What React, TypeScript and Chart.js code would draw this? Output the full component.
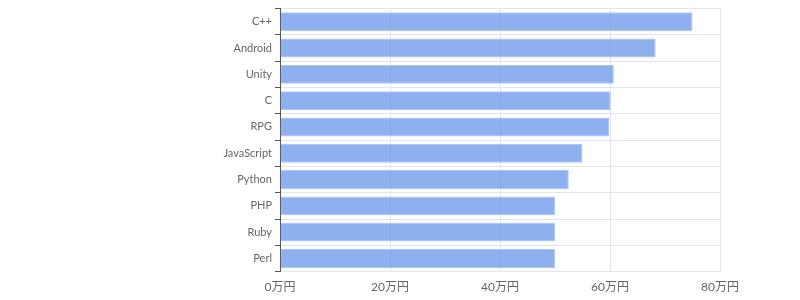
import React, { useEffect, useRef } from "react";
import { Chart, registerables } from "chart.js";

Chart.register(...registerables);

const categories = ["C++", "Android", "Unity", "C", "RPG", "JavaScript", "Python", "PHP", "Ruby", "Perl"];
const salaries = [75, 68.3, 60.7, 60.1, 59.9, 55, 52.5, 50, 50, 50];
const xMin = 0;
const xMax = 80;
const xStep = 20;
const unit = "万円";

const FONT = "Lato, 'Noto Sans CJK JP', sans-serif";

export default function App() {
  const ref = useRef<HTMLCanvasElement | null>(null);
  useEffect(() => {
    if (!ref.current) return;
    const chart = new Chart(ref.current, {
      type: "bar",
      data: {
        labels: categories,
        datasets: [
          {
            data: salaries,
            backgroundColor: "rgba(100,145,232,0.72)",
            borderColor: "rgba(120,160,240,0.6)",
            borderWidth: 1,
          },
        ],
      },
      options: {
        indexAxis: "y",
        animation: false,
        responsive: true,
        maintainAspectRatio: false,
        layout: { padding: { left: 0, right: 72, top: 0, bottom: 7 } },
        plugins: { legend: { display: false }, tooltip: { enabled: false } },
        scales: {
          x: {
            min: xMin,
            max: xMax,
            ticks: {
              stepSize: xStep,
              padding: 0,
              color: "#666",
              font: { family: FONT, size: 12 },
              callback: (v: any) => `${v}${unit}`,
            },
            grid: { color: "#dfe5f2", tickColor: "rgba(0,0,0,0)" },
            border: { color: "#dfe5f2" },
          },
          y: {
            afterFit: (s: any) => {
              s.width = 272;
            },
            ticks: { color: "#666", padding: 3, font: { family: FONT, size: 11 } },
            grid: { color: "#dfe5f2", tickColor: "#555", tickLength: 5, offset: true },
            border: { color: "#555" },
          },
        },
      },
    });
    return () => chart.destroy();
  }, []);
  return (
    <div style={{ width: 784, height: 302, marginTop: -9 }}>
      <canvas ref={ref} />
    </div>
  );
}
